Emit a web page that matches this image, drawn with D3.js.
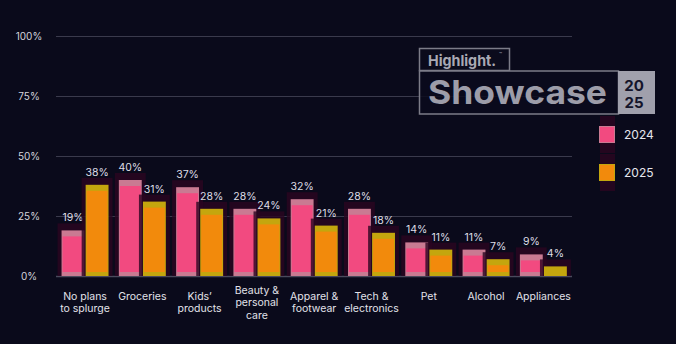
<!DOCTYPE html>
<html>
<head>
<meta charset="utf-8">
<script src="https://cdn.jsdelivr.net/npm/d3@7"></script>
<style>
  html, body { margin: 0; padding: 0; background: #0a0a1b; }
  svg { display: block; font-family: Inter, "Open Sans", sans-serif; }
</style>
</head>
<body>
<div id="chart"></div>
<script>
  // Data
  const categories = [
    ['No plans', 'to splurge'], ['Groceries'], ['Kids\u2019', 'products'],
    ['Beauty &', 'personal', 'care'], ['Apparel &', 'footwear'],
    ['Tech &', 'electronics'], ['Pet'], ['Alcohol'], ['Appliances']
  ];
  const years = ['2024', '2025'];
  const values2024 = [19, 40, 37, 28, 32, 28, 14, 11, 9];
  const values2025 = [38, 31, 28, 24, 21, 18, 11, 7, 4];
  const yTicks = [0, 25, 50, 75, 100];

  const W = 676, H = 344;
  const colors = { '2024': '#f24a80', '2025': '#f28a0c' };
  const caps = { '2024': '#c97a92', '2025': '#c4a60e' };

  const svg = d3.select('#chart')
    .append('svg')
    .attr('width', W)
    .attr('height', H);

  svg.append('rect').attr('width', W).attr('height', H).attr('fill', '#0a0a1b');

  const keys = categories.map(c => c.join(' '));
  const rows = keys.map((k, i) => ({ key: k, lines: categories[i], '2024': values2024[i], '2025': values2025[i] }));

  const x0 = d3.scaleBand().domain(keys).range([56.4, 572]).paddingInner(0.18).paddingOuter(0.09);
  const x1 = d3.scaleBand().domain(years).range([0, x0.bandwidth()]).paddingInner(0.05);
  const y = d3.scaleLinear().domain([0, 100]).range([276, 36]);

  // gridlines
  svg.append('g')
    .selectAll('line')
    .data(yTicks)
    .join('line')
    .attr('x1', 56).attr('x2', 572)
    .attr('y1', d => y(d) + 0.5).attr('y2', d => y(d) + 0.5)
    .attr('stroke', d => d === 0 ? '#4a4a5c' : '#3a3a4c')
    .attr('stroke-width', d => d === 0 ? 1.5 : 1);

  // y labels
  svg.append('g')
    .selectAll('text')
    .data(yTicks)
    .join('text')
    .attr('x', 29)
    .attr('y', d => y(d))
    .attr('dy', '0.35em')
    .attr('text-anchor', 'middle')
    .attr('fill', '#d4d4dc')
    .style('font-size', '10px')
    .text(d => d + '%');

  // bars
  const groups = svg.append('g')
    .selectAll('g')
    .data(rows)
    .join('g')
    .attr('transform', d => `translate(${x0(d.key)},0)`);

  const bars = groups.selectAll('g')
    .data(d => years.map(yr => ({ yr, v: d[yr] })))
    .join('g');

  // dark glow behind
  bars.append('rect')
    .attr('x', d => x1(d.yr) - 4)
    .attr('y', d => y(d.v) - 7)
    .attr('width', x1.bandwidth() + 8)
    .attr('height', d => y(0) - y(d.v) + 7)
    .attr('fill', '#2b0520')
    .attr('opacity', 0.8);

  bars.append('rect')
    .attr('x', d => x1(d.yr))
    .attr('y', d => y(d.v))
    .attr('width', x1.bandwidth())
    .attr('height', d => y(0) - y(d.v))
    .attr('fill', d => caps[d.yr]);

  bars.append('rect')
    .attr('x', d => x1(d.yr) + 1)
    .attr('y', d => Math.min(y(d.v) + 6, y(0) - 4))
    .attr('width', x1.bandwidth() - 2)
    .attr('height', d => Math.max(0, y(0) - 4 - Math.min(y(d.v) + 6, y(0) - 4)))
    .attr('fill', d => colors[d.yr]);

  // value labels
  bars.append('text')
    .attr('x', d => x1(d.yr) + x1.bandwidth() / 2)
    .attr('y', d => y(d.v) - 9)
    .attr('text-anchor', 'middle')
    .attr('fill', '#dedee6')
    .style('font-size', '10.5px')
    .text(d => d.v + '%');

  // category labels
  const catLabels = svg.append('g')
    .selectAll('text')
    .data(rows)
    .join('text')
    .attr('x', d => x0(d.key) + x0.bandwidth() / 2)
    .attr('y', d => d.lines.length > 2 ? 293.5 : 299.5)
    .attr('text-anchor', 'middle')
    .attr('fill', '#e2e2ea')
    .style('font-size', '10.5px');

  catLabels.selectAll('tspan')
    .data(d => d.lines.map((l, i) => ({ l, i, x: x0(d.key) + x0.bandwidth() / 2 })))
    .join('tspan')
    .attr('x', d => d.x)
    .attr('dy', d => d.i === 0 ? 0 : 12.5)
    .text(d => d.l);

  // logo
  const logo = svg.append('g');
  logo.append('rect')
    .attr('x', 419.5).attr('y', 48.5).attr('width', 90).attr('height', 22)
    .attr('fill', '#0b0b1c').attr('stroke', '#7c7c88').attr('stroke-width', 1.5);
  logo.append('text')
    .attr('x', 428).attr('y', 66)
    .attr('fill', '#a9a9b4')
    .style('font-size', '15px').style('font-weight', 700)
    .attr('textLength', 68).attr('lengthAdjust', 'spacingAndGlyphs')
    .text('Highlight.');
  logo.append('text')
    .attr('x', 499).attr('y', 56)
    .attr('fill', '#a9a9b4')
    .style('font-size', '5px')
    .text('\u2122');
  logo.append('rect')
    .attr('x', 419.5).attr('y', 71).attr('width', 199).attr('height', 43)
    .attr('fill', '#0b0b1c').attr('fill-opacity', 0.85)
    .attr('stroke', '#7c7c88').attr('stroke-width', 1.5);
  logo.append('text')
    .attr('x', 428).attr('y', 103.5)
    .attr('fill', '#9d9da9')
    .style('font-size', '33px').style('font-weight', 700)
    .attr('textLength', 179).attr('lengthAdjust', 'spacingAndGlyphs')
    .text('Showcase');
  logo.append('rect')
    .attr('x', 618).attr('y', 71).attr('width', 37).attr('height', 43)
    .attr('fill', '#a0a0ac');
  logo.append('text')
    .attr('x', 634).attr('y', 90.5)
    .attr('text-anchor', 'middle')
    .attr('fill', '#14142a')
    .style('font-size', '15px').style('font-weight', 700)
    .text('20');
  logo.append('text')
    .attr('x', 634).attr('y', 108)
    .attr('text-anchor', 'middle')
    .attr('fill', '#14142a')
    .style('font-size', '15px').style('font-weight', 700)
    .text('25');

  // legend
  const legend = svg.append('g')
    .selectAll('g')
    .data(years)
    .join('g')
    .attr('transform', (d, i) => `translate(599,${126 + i * 38})`);
  legend.append('rect')
    .attr('x', 1).attr('y', -10).attr('width', 15).attr('height', 37)
    .attr('fill', '#2b0520').attr('opacity', 0.8);
  legend.append('rect')
    .attr('width', 16).attr('height', 17)
    .attr('fill', d => caps[d]);
  legend.append('rect')
    .attr('x', 1).attr('y', 1).attr('width', 14).attr('height', 15)
    .attr('fill', d => colors[d]);
  legend.append('text')
    .attr('x', 25).attr('y', 8.5)
    .attr('dy', '0.35em')
    .attr('fill', '#e6e6ee')
    .style('font-size', '12px')
    .text(d => d);
</script>
</body>
</html>
